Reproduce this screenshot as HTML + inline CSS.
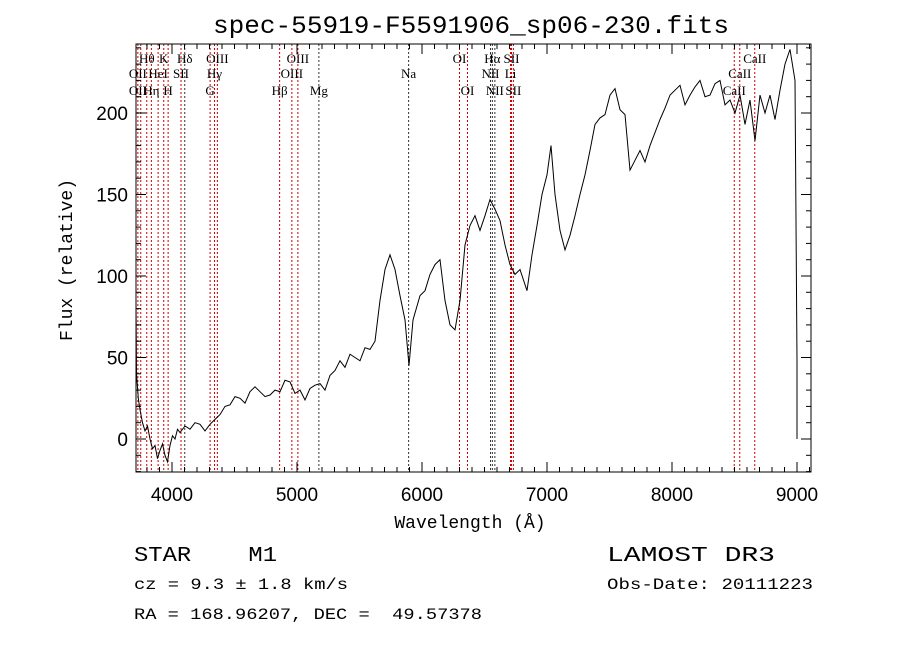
<!DOCTYPE html>
<html><head><meta charset="utf-8"><style>
body{margin:0;background:#fff;width:900px;height:649px;overflow:hidden}
svg{display:block}
text{font-family:"Liberation Sans",sans-serif;fill:#000;white-space:pre}
.mono{font-family:"Liberation Mono",monospace}
.ser{font-family:"Liberation Serif",serif;font-size:13px}
</style></head><body>
<svg id="chart" width="900" height="649" viewBox="0 0 900 649">
<text class="mono" x="471" y="33" text-anchor="middle" font-size="25" textLength="516" lengthAdjust="spacingAndGlyphs">spec-55919-F5591906_sp06-230.fits</text>
<g id="lines"></g>
<g id="axes"></g>
<path id="spec" fill="none" stroke="#000" stroke-width="1"/>
<text class="mono" x="470" y="528" text-anchor="middle" font-size="18">Wavelength (Å)</text>
<text class="mono" transform="translate(72,260) rotate(-90)" text-anchor="middle" font-size="18">Flux (relative)</text>
<text class="mono" x="134" y="561" font-size="21" textLength="143" lengthAdjust="spacingAndGlyphs">STAR    M1</text>
<text class="mono" x="134" y="589" font-size="16" textLength="214" lengthAdjust="spacingAndGlyphs">cz = 9.3 ± 1.8 km/s</text>
<text class="mono" x="134" y="619" font-size="16" textLength="348" lengthAdjust="spacingAndGlyphs">RA = 168.96207, DEC =  49.57378</text>
<text class="mono" x="607" y="561" font-size="21" textLength="168" lengthAdjust="spacingAndGlyphs">LAMOST DR3</text>
<text class="mono" x="607" y="589" font-size="16" textLength="206" lengthAdjust="spacingAndGlyphs">Obs-Date: 20111223</text>
</svg>
<script>
const wave=[3712,3716,3730,3744,3764,3784,3804,3824,3844,3864,3884,3904,3924,3944,3964,3984,4004,4024,4044,4064,4104,4144,4184,4224,4264,4304,4344,4384,4424,4464,4504,4544,4584,4624,4664,4704,4744,4784,4824,4864,4904,4944,4984,5024,5064,5104,5144,5184,5224,5264,5304,5344,5384,5424,5464,5504,5544,5584,5624,5664,5704,5744,5784,5824,5864,5896,5928,5984,6024,6064,6104,6144,6184,6224,6264,6304,6344,6384,6424,6464,6504,6544,6584,6624,6664,6704,6744,6784,6840,6880,6920,6960,7000,7032,7064,7104,7144,7184,7224,7264,7304,7344,7384,7424,7464,7504,7544,7584,7624,7664,7704,7744,7784,7824,7864,7904,7944,7984,8024,8064,8104,8144,8184,8224,8264,8304,8344,8384,8424,8464,8504,8544,8584,8624,8664,8704,8744,8784,8824,8864,8904,8944,8984,9000,9000];
const flux=[85,40,25,18,10,5,8,0,-6,-4,-12,-7,-3,-10,-14,-4,2,0,6,4,8,6,10,9,5,9,12,15,20,21,26,25,22,29,32,29,26,27,30,29,36,35,28,30,24,31,33,34,30,39,42,48,44,52,50,48,56,55,60,85,104,113,104,88,73,45,73,88,91,101,107,110,85,70,67,85,119,131,137,128,137,147,141,134,119,107,101,104,91,113,131,150,162,180,150,128,116,125,137,150,162,177,193,197,199,211,215,202,199,165,171,177,170,180,188,196,203,211,214,217,205,211,216,220,210,211,218,220,205,208,200,211,193,208,183,211,200,211,196,214,230,239,220,48,0];
const lineWaves=[3727,3750,3798,3835,3889,3934,3969,4072,4102,4305,4340,4363,4861,4959,5007,5175,5893,6300,6364,6548,6563,6583,6708,6716,6731,8498,8542,8662];
const lineColors=["r","r","r","r","r","r","r","r","k","r","r","r","r","r","r","k","k","r","r","k","k","k","r","r","r","r","r","r"];
const labels=[["Hθ",3798,63],["K",3934,63],["Hδ",4102,63],["OIII",4363,63],["OIII",5007,63],["OI",6300,63],["Hα",6563,63],["SII",6716,63],["CaII",8662,63],
["OII",3727,78],["HeI",3889,78],["SII",4072,78],["Hγ",4340,78],["OIII",4959,78],["Na",5893,78],["NII",6548,78],["Li",6708,78],["CaII",8542,78],
["OII",3727,95],["Hη",3835,95],["H",3969,95],["G",4305,95],["Hβ",4861,95],["Mg",5175,95],["OI",6364,95],["NII",6583,95],["SII",6731,95],["CaII",8498,95]];
const xTicks=[4000,5000,6000,7000,8000,9000];
const yTicks=[0,50,100,150,200];
const X0=136,X1=811,Y0=44,Y1=472;
const sx=w=>172+(w-4000)*0.125;
const sy=f=>439-f*1.63;
const NS="http://www.w3.org/2000/svg";
function mk(t,a,p){const e=document.createElementNS(NS,t);for(const k in a)e.setAttribute(k,a[k]);p.appendChild(e);return e;}
const L=document.getElementById('lines');
lineWaves.forEach((w,i)=>{
 const l=mk('line',{x1:sx(w),x2:sx(w),y1:Y0,y2:Y1,stroke:lineColors[i]=="r"?"#c00":"#333","stroke-width":1,"stroke-dasharray":"2,2"},L);
 
 
});
labels.forEach(b=>{
 const t=mk('text',{x:sx(b[1]),y:b[2],"text-anchor":"middle",class:"ser"},L);t.textContent=b[0];
 
 
});
const A=document.getElementById('axes');
const fr=mk('rect',{x:X0,y:Y0,width:X1-X0,height:Y1-Y0,fill:"none",stroke:"#000","stroke-width":1},A);


for(let w=3800;w<=9100;w+=100){const x=sx(w);const big=w%1000==0;const len=big?10:5;
 mk('line',{x1:x,x2:x,y1:Y1,y2:Y1-len,stroke:"#000"},A);mk('line',{x1:x,x2:x,y1:Y0,y2:Y0+len,stroke:"#000"},A);}
xTicks.forEach(w=>{const t=mk('text',{x:sx(w),y:Y1+29,"text-anchor":"middle","font-size":19},A);t.textContent=w;
 
 });
for(let f=-20;f<=240;f+=10){const y=sy(f);if(y<Y0||y>Y1)continue;const len=f%50==0?10:5;
 mk('line',{x1:X0,x2:X0+len,y1:y,y2:y,stroke:"#000"},A);mk('line',{x1:X1,x2:X1-len,y1:y,y2:y,stroke:"#000"},A);}
yTicks.forEach(f=>{const t=mk('text',{x:X0-8,y:sy(f)+7,"text-anchor":"end","font-size":19},A);t.textContent=f;
 
 });
document.getElementById('spec').setAttribute('d',wave.map((w,i)=>(i?'L':'M')+sx(w).toFixed(1)+','+sy(flux[i]).toFixed(1)).join(''));
</script>
</body></html>
